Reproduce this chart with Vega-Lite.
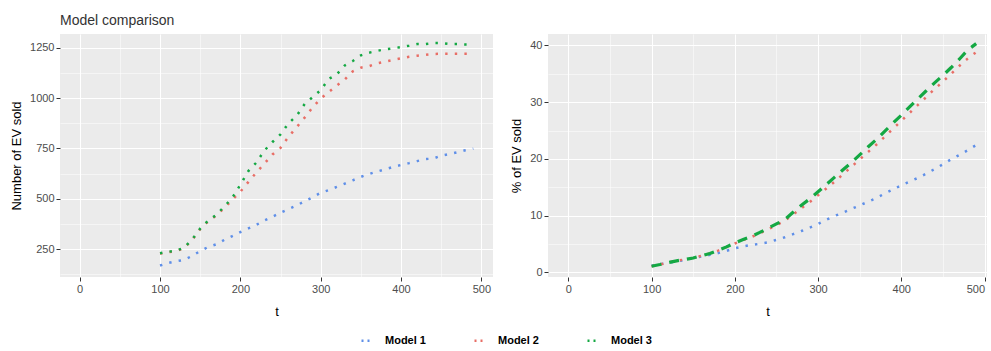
{
  "$schema": "https://vega.github.io/schema/vega-lite/v6.json",
  "padding": {"left": 10, "top": 14, "right": 0, "bottom": 0},
  "background": "white",
  "config": {
    "font": "Liberation Sans",
    "view": {"fill": "#EBEBEB", "stroke": null},
    "axis": {"domain": false, "grid": true, "gridColor": "#FFFFFF", "tickColor": "#333333", "tickSize": 4, "tickWidth": 1, "labelColor": "#4D4D4D", "labelFontSize": 11, "labelPadding": 2, "titleFontSize": 13, "titleFontWeight": "normal", "titleColor": "#000000", "labelOverlap": false},
    "concat": {"spacing": 17}
  },
  "data": {"values": [
    {"model":"Model 1","t":100,"sold":169,"pct":1.2},{"model":"Model 1","t":110,"sold":181,"pct":1.45},{"model":"Model 1","t":120,"sold":190,"pct":1.7},{"model":"Model 1","t":130,"sold":197,"pct":1.95},{"model":"Model 1","t":140,"sold":217,"pct":2.2},
    {"model":"Model 1","t":150,"sold":241,"pct":2.5},{"model":"Model 1","t":160,"sold":261,"pct":2.8},{"model":"Model 1","t":170,"sold":274,"pct":3.1},{"model":"Model 1","t":180,"sold":296,"pct":3.4},{"model":"Model 1","t":190,"sold":315,"pct":3.8},
    {"model":"Model 1","t":200,"sold":335,"pct":4.25},{"model":"Model 1","t":210,"sold":353,"pct":4.6},{"model":"Model 1","t":220,"sold":371,"pct":4.85},{"model":"Model 1","t":230,"sold":393,"pct":5.05},{"model":"Model 1","t":240,"sold":411,"pct":5.3},
    {"model":"Model 1","t":250,"sold":431,"pct":5.75},{"model":"Model 1","t":260,"sold":449,"pct":6.2},{"model":"Model 1","t":270,"sold":467,"pct":6.75},{"model":"Model 1","t":280,"sold":488,"pct":7.3},{"model":"Model 1","t":290,"sold":508,"pct":7.9},
    {"model":"Model 1","t":300,"sold":530,"pct":8.55},{"model":"Model 1","t":310,"sold":543,"pct":9.3},{"model":"Model 1","t":320,"sold":559,"pct":9.95},{"model":"Model 1","t":330,"sold":575,"pct":10.55},{"model":"Model 1","t":340,"sold":592,"pct":11.2},
    {"model":"Model 1","t":350,"sold":609,"pct":11.8},{"model":"Model 1","t":360,"sold":623,"pct":12.45},{"model":"Model 1","t":370,"sold":635,"pct":13.1},{"model":"Model 1","t":380,"sold":646,"pct":13.9},{"model":"Model 1","t":390,"sold":658,"pct":14.6},
    {"model":"Model 1","t":400,"sold":668,"pct":15.35},{"model":"Model 1","t":410,"sold":677,"pct":16.0},{"model":"Model 1","t":420,"sold":687,"pct":16.65},{"model":"Model 1","t":430,"sold":697,"pct":17.4},{"model":"Model 1","t":440,"sold":700,"pct":18.2},
    {"model":"Model 1","t":450,"sold":714,"pct":19.05},{"model":"Model 1","t":460,"sold":722,"pct":19.95},{"model":"Model 1","t":470,"sold":731,"pct":20.7},{"model":"Model 1","t":480,"sold":741,"pct":21.55},{"model":"Model 1","t":490,"sold":749,"pct":22.45},
    {"model":"Model 2","t":100,"sold":228,"pct":1.1},{"model":"Model 2","t":110,"sold":235,"pct":1.4},{"model":"Model 2","t":120,"sold":240,"pct":1.75},{"model":"Model 2","t":130,"sold":256,"pct":2.05},{"model":"Model 2","t":140,"sold":296,"pct":2.3},
    {"model":"Model 2","t":150,"sold":350,"pct":2.55},{"model":"Model 2","t":160,"sold":388,"pct":2.95},{"model":"Model 2","t":170,"sold":417,"pct":3.35},{"model":"Model 2","t":180,"sold":455,"pct":3.85},{"model":"Model 2","t":190,"sold":495,"pct":4.45},
    {"model":"Model 2","t":200,"sold":535,"pct":5.1},{"model":"Model 2","t":210,"sold":584,"pct":5.7},{"model":"Model 2","t":220,"sold":631,"pct":6.25},{"model":"Model 2","t":230,"sold":675,"pct":6.9},{"model":"Model 2","t":240,"sold":720,"pct":7.6},
    {"model":"Model 2","t":250,"sold":753,"pct":8.35},{"model":"Model 2","t":260,"sold":808,"pct":9.1},{"model":"Model 2","t":270,"sold":855,"pct":10.2},{"model":"Model 2","t":280,"sold":903,"pct":11.3},{"model":"Model 2","t":290,"sold":954,"pct":12.4},
    {"model":"Model 2","t":300,"sold":997,"pct":13.6},{"model":"Model 2","t":310,"sold":1030,"pct":14.8},{"model":"Model 2","t":320,"sold":1062,"pct":16.0},{"model":"Model 2","t":330,"sold":1092,"pct":17.3},{"model":"Model 2","t":340,"sold":1133,"pct":18.6},
    {"model":"Model 2","t":350,"sold":1151,"pct":19.9},{"model":"Model 2","t":360,"sold":1158,"pct":21.2},{"model":"Model 2","t":370,"sold":1172,"pct":22.5},{"model":"Model 2","t":380,"sold":1180,"pct":23.9},{"model":"Model 2","t":390,"sold":1189,"pct":25.3},
    {"model":"Model 2","t":400,"sold":1197,"pct":26.7},{"model":"Model 2","t":410,"sold":1205,"pct":28.1},{"model":"Model 2","t":420,"sold":1210,"pct":29.5},{"model":"Model 2","t":430,"sold":1214,"pct":30.9},{"model":"Model 2","t":440,"sold":1219,"pct":32.3},
    {"model":"Model 2","t":450,"sold":1220,"pct":33.6},{"model":"Model 2","t":460,"sold":1220,"pct":35.0},{"model":"Model 2","t":470,"sold":1220,"pct":36.4},{"model":"Model 2","t":480,"sold":1220,"pct":37.7},{"model":"Model 2","t":490,"sold":1220,"pct":38.8},
    {"model":"Model 3","t":100,"sold":230,"pct":1.1},{"model":"Model 3","t":110,"sold":237,"pct":1.4},{"model":"Model 3","t":120,"sold":242,"pct":1.75},{"model":"Model 3","t":130,"sold":258,"pct":2.05},{"model":"Model 3","t":140,"sold":298,"pct":2.3},
    {"model":"Model 3","t":150,"sold":352,"pct":2.55},{"model":"Model 3","t":160,"sold":392,"pct":2.95},{"model":"Model 3","t":170,"sold":420,"pct":3.35},{"model":"Model 3","t":180,"sold":462,"pct":3.9},{"model":"Model 3","t":190,"sold":505,"pct":4.5},
    {"model":"Model 3","t":200,"sold":570,"pct":5.2},{"model":"Model 3","t":210,"sold":638,"pct":5.8},{"model":"Model 3","t":220,"sold":680,"pct":6.35},{"model":"Model 3","t":230,"sold":740,"pct":7.05},{"model":"Model 3","t":240,"sold":782,"pct":7.8},
    {"model":"Model 3","t":250,"sold":820,"pct":8.55},{"model":"Model 3","t":260,"sold":875,"pct":9.3},{"model":"Model 3","t":270,"sold":912,"pct":10.6},{"model":"Model 3","t":280,"sold":970,"pct":11.85},{"model":"Model 3","t":290,"sold":1005,"pct":12.95},
    {"model":"Model 3","t":300,"sold":1039,"pct":14.2},{"model":"Model 3","t":310,"sold":1095,"pct":15.5},{"model":"Model 3","t":320,"sold":1117,"pct":16.8},{"model":"Model 3","t":330,"sold":1162,"pct":18.1},{"model":"Model 3","t":340,"sold":1184,"pct":19.35},
    {"model":"Model 3","t":350,"sold":1212,"pct":20.7},{"model":"Model 3","t":360,"sold":1225,"pct":22.1},{"model":"Model 3","t":370,"sold":1234,"pct":23.4},{"model":"Model 3","t":380,"sold":1242,"pct":24.85},{"model":"Model 3","t":390,"sold":1247,"pct":26.3},
    {"model":"Model 3","t":400,"sold":1253,"pct":27.7},{"model":"Model 3","t":410,"sold":1260,"pct":29.15},{"model":"Model 3","t":420,"sold":1268,"pct":30.6},{"model":"Model 3","t":430,"sold":1268,"pct":32.0},{"model":"Model 3","t":440,"sold":1273,"pct":33.4},
    {"model":"Model 3","t":450,"sold":1273,"pct":34.7},{"model":"Model 3","t":460,"sold":1268,"pct":36.1},{"model":"Model 3","t":470,"sold":1268,"pct":37.6},{"model":"Model 3","t":480,"sold":1266,"pct":39.2},{"model":"Model 3","t":490,"sold":1266,"pct":40.3}
  ]},
  "hconcat": [
    {
      "width": 433,
      "height": 243,
      "title": {"text": "Model comparison", "anchor": "start", "frame": "group", "fontSize": 14, "fontWeight": "normal", "color": "#333333", "offset": 6},
      "mark": {"type": "line", "strokeDash": [2.4, 7.2], "strokeWidth": 2.5, "strokeCap": "butt"},
      "encoding": {
        "x": {"field": "t", "type": "quantitative", "scale": {"domain": [-24.5, 514.5], "nice": false, "zero": false},
              "axis": {"title": "t", "values": [0,50,100,150,200,250,300,350,400,450,500], "format": "d",
                       "labelExpr": "datum.value % 100 === 0 ? datum.label : ''",
                       "gridWidth": {"condition": {"test": "datum.value % 100 === 0", "value": 1.1}, "value": 0.5},
                       "tickOpacity": {"condition": {"test": "datum.value % 100 === 0", "value": 1}, "value": 0},
                       "titlePadding": 11}},
        "y": {"field": "sold", "type": "quantitative", "scale": {"domain": [112, 1318], "nice": false, "zero": false},
              "axis": {"title": "Number of EV sold", "values": [125,250,375,500,625,750,875,1000,1125,1250], "format": "d",
                       "labelExpr": "datum.value % 250 === 0 ? datum.label : ''",
                       "gridWidth": {"condition": {"test": "datum.value % 250 === 0", "value": 1.1}, "value": 0.5},
                       "tickOpacity": {"condition": {"test": "datum.value % 250 === 0", "value": 1}, "value": 0},
                       "titlePadding": 6}},
        "color": {"field": "model", "type": "nominal",
                  "scale": {"domain": ["Model 1", "Model 2", "Model 3"], "range": ["#5F8FE8", "#E86E66", "#14A843"]},
                  "legend": {"orient": "none", "legendX": 300, "legendY": 300, "direction": "horizontal", "title": null,
                             "symbolType": "stroke", "symbolDash": [2, 4], "symbolStrokeWidth": 2.4, "symbolSize": 100,
                             "labelFontSize": 11, "labelFontWeight": "bold", "labelColor": "#000000", "labelOffset": 12,
                             "columnPadding": 43}}
      }
    },
    {
      "width": 439,
      "height": 243,
      "encoding": {
        "x": {"field": "t", "type": "quantitative", "scale": {"domain": [-24.5, 503], "nice": false, "zero": false},
              "axis": {"title": "t", "values": [0,50,100,150,200,250,300,350,400,450,500], "format": "d",
                       "labelExpr": "datum.value % 100 === 0 ? datum.label : ''",
                       "gridWidth": {"condition": {"test": "datum.value % 100 === 0", "value": 1.1}, "value": 0.5},
                       "tickOpacity": {"condition": {"test": "datum.value % 100 === 0", "value": 1}, "value": 0},
                       "labelFlush": 5,
                       "titlePadding": 11}},
        "y": {"field": "pct", "type": "quantitative", "scale": {"domain": [-0.8, 42], "nice": false, "zero": false},
              "axis": {"title": "% of EV sold", "values": [0,5,10,15,20,25,30,35,40], "format": "d",
                       "labelExpr": "datum.value % 10 === 0 ? datum.label : ''",
                       "gridWidth": {"condition": {"test": "datum.value % 10 === 0", "value": 1.1}, "value": 0.5},
                       "tickOpacity": {"condition": {"test": "datum.value % 10 === 0", "value": 1}, "value": 0},
                       "titlePadding": 6}},
        "color": {"field": "model", "type": "nominal",
                  "scale": {"domain": ["Model 1", "Model 2", "Model 3"], "range": ["#5F8FE8", "#E86E66", "#14A843"]}}
      },
      "layer": [
        {"transform": [{"filter": "datum.model !== 'Model 3'"}],
         "mark": {"type": "line", "strokeDash": [2.4, 7.2], "strokeWidth": 2.5, "strokeCap": "butt"}},
        {"transform": [{"filter": "datum.model === 'Model 3'"}],
         "mark": {"type": "line", "strokeDash": [10, 8], "strokeWidth": 3.2, "strokeCap": "butt"}}
      ]
    }
  ]
}
